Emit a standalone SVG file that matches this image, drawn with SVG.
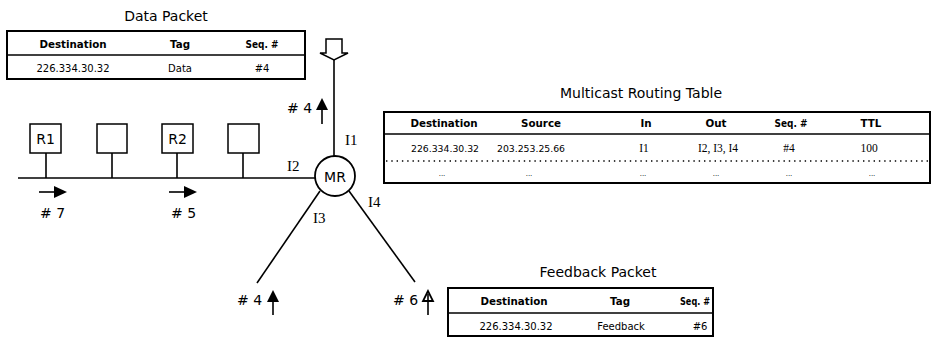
<svg xmlns="http://www.w3.org/2000/svg" width="932" height="337" viewBox="0 0 932 337">
  <style>
    .frame { fill: #fff; stroke: #000; stroke-width: 2; }
    .rule { stroke: #000; stroke-width: 1.5; fill: none; }
    .dots { stroke: #000; stroke-width: 1.6; stroke-dasharray: 1.4 3.9; fill: none; }
    .wire { stroke: #000; stroke-width: 1.6; fill: none; }
    .box { fill: #fff; stroke: #000; stroke-width: 1.5; }
    .title { font-family: "DejaVu Sans", Verdana, sans-serif; font-size: 14px; text-anchor: middle; fill: #000; }
    .hdr { font-family: "DejaVu Sans", Verdana, sans-serif; font-size: 10.3px; font-weight: bold; text-anchor: middle; fill: #000; }
    .cell { font-family: "DejaVu Sans", Verdana, sans-serif; font-size: 10px; text-anchor: middle; fill: #000; }
    .cells { font-family: "DejaVu Sans", Verdana, sans-serif; font-size: 9.3px; text-anchor: middle; fill: #000; }
    .cellserif { font-family: "Liberation Serif", "Times New Roman", serif; font-size: 11.5px; text-anchor: middle; fill: #000; }
    .ell { font-family: "DejaVu Sans", Verdana, sans-serif; font-size: 7px; text-anchor: middle; fill: #000; }
    .lbl { font-family: "DejaVu Sans", Verdana, sans-serif; font-size: 14px; fill: #000; }
    .iface { font-family: "Liberation Serif", "Times New Roman", serif; font-size: 15px; fill: #000; }
    .node { font-family: "DejaVu Sans", Verdana, sans-serif; font-size: 14px; text-anchor: middle; fill: #000; }
    .head { fill: #000; stroke: none; }
  </style>

  <!-- Connectors: LAN bus, host drops and the router's interface links -->
  <g id="connectors">
    <line class="wire" x1="18" y1="178" x2="315" y2="178" stroke-width="2"/>
    <line class="wire" x1="46" y1="153" x2="46" y2="178"/>
    <line class="wire" x1="112" y1="153" x2="112" y2="178"/>
    <line class="wire" x1="177" y1="153" x2="177" y2="178"/>
    <line class="wire" x1="243" y1="153" x2="243" y2="178"/>
    <line class="wire" x1="334" y1="60" x2="334" y2="157"/>
    <line class="wire" x1="320" y1="191" x2="257" y2="283"/>
    <line class="wire" x1="349" y1="191" x2="415" y2="282"/>
  </g>

  <!-- Incoming block arrow on interface I1 -->
  <g id="source-arrow">
    <polygon class="box" points="326,39 342,39 342,53 348,53 334,60 320,53 326,53"/>
  </g>

  <!-- Multicast router -->
  <g id="mr">
    <circle cx="335" cy="176" r="20" fill="#fff" stroke="#000" stroke-width="1.8"/>
    <text class="node" x="335" y="182" font-size="15">MR</text>
  </g>

  <!-- Hosts on the LAN -->
  <g id="r1">
    <rect class="box" x="30" y="124" width="31" height="29"/>
    <text class="node" x="45.5" y="144">R1</text>
  </g>
  <g id="host2">
    <rect class="box" x="97" y="124" width="30" height="29"/>
  </g>
  <g id="r2">
    <rect class="box" x="162" y="124" width="31" height="29"/>
    <text class="node" x="177.5" y="144">R2</text>
  </g>
  <g id="host4">
    <rect class="box" x="228" y="124" width="31" height="29"/>
  </g>

  <!-- Interface names -->
  <g id="interfaces">
    <text class="iface" x="345" y="145">I1</text>
    <text class="iface" x="287" y="171">I2</text>
    <text class="iface" x="313" y="223">I3</text>
    <text class="iface" x="368" y="207">I4</text>
  </g>

  <!-- Sequence markers with direction arrows -->
  <g id="seq-i1">
    <text class="lbl" x="287" y="113"># 4</text>
    <line class="wire" x1="322" y1="108" x2="322" y2="124"/>
    <polygon class="head" points="322,98 316,110 328,110"/>
  </g>
  <g id="seq-r1">
    <line class="wire" x1="39" y1="192" x2="56" y2="192"/>
    <polygon class="head" points="54,186 67,192 54,198"/>
    <text class="lbl" x="40" y="218"># 7</text>
  </g>
  <g id="seq-r2">
    <line class="wire" x1="169" y1="192" x2="186" y2="192"/>
    <polygon class="head" points="184,186 197,192 184,198"/>
    <text class="lbl" x="171" y="218"># 5</text>
  </g>
  <g id="seq-i3">
    <text class="lbl" x="237" y="305"># 4</text>
    <line class="wire" x1="273" y1="300" x2="273" y2="315"/>
    <polygon class="head" points="273,290 267,302 279,302"/>
  </g>
  <g id="seq-i4">
    <text class="lbl" x="393" y="305"># 6</text>
    <line class="wire" x1="428" y1="294" x2="428" y2="315"/>
    <polygon points="428,291 423,301 433,301" fill="none" stroke="#000" stroke-width="1.8"/>
  </g>

  <!-- Data packet header -->
  <g id="data-packet">
    <text class="title" x="166" y="21">Data Packet</text>
    <rect class="frame" x="7" y="31" width="298" height="48"/>
    <line class="rule" x1="7" y1="55" x2="305" y2="55"/>
    <text class="hdr" x="73" y="48">Destination</text>
    <text class="hdr" x="180" y="48">Tag</text>
    <text class="hdr" x="262" y="48" textLength="33" lengthAdjust="spacingAndGlyphs">Seq. #</text>
    <text class="cell" x="73" y="72">226.334.30.32</text>
    <text class="cell" x="180" y="72">Data</text>
    <text class="cell" x="262" y="72">#4</text>
  </g>

  <!-- Multicast routing table -->
  <g id="routing-table">
    <text class="title" x="641" y="98" font-size="13.3">Multicast Routing Table</text>
    <rect class="frame" x="384" y="112" width="546" height="71"/>
    <line class="rule" x1="384" y1="134" x2="930" y2="134"/>
    <line class="dots" x1="386" y1="161" x2="930" y2="161"/>
    <text class="hdr" x="444" y="127">Destination</text>
    <text class="hdr" x="541" y="127">Source</text>
    <text class="hdr" x="646" y="127">In</text>
    <text class="hdr" x="716" y="127">Out</text>
    <text class="hdr" x="791" y="127" textLength="33" lengthAdjust="spacingAndGlyphs">Seq. #</text>
    <text class="hdr" x="871" y="127">TTL</text>
    <text class="cells" x="445" y="152">226.334.30.32</text>
    <text class="cells" x="531" y="152">203.253.25.66</text>
    <text class="cellserif" x="644" y="152">I1</text>
    <text class="cellserif" x="718" y="152">I2, I3, I4</text>
    <text class="cellserif" x="789" y="152">#4</text>
    <text class="cellserif" x="869" y="152">100</text>
    <text class="ell" x="442" y="176">...</text>
    <text class="ell" x="529" y="176">...</text>
    <text class="ell" x="643" y="176">...</text>
    <text class="ell" x="716" y="176">...</text>
    <text class="ell" x="789" y="176">...</text>
    <text class="ell" x="872" y="176">...</text>
  </g>

  <!-- Feedback packet header -->
  <g id="feedback-packet">
    <text class="title" x="598" y="277">Feedback Packet</text>
    <rect class="frame" x="448" y="288" width="265" height="48"/>
    <line class="rule" x1="448" y1="313" x2="713" y2="313"/>
    <text class="hdr" x="514" y="305">Destination</text>
    <text class="hdr" x="620" y="305">Tag</text>
    <text class="hdr" x="695" y="305" textLength="30" lengthAdjust="spacingAndGlyphs">Seq. #</text>
    <text class="cell" x="516" y="330">226.334.30.32</text>
    <text class="cell" x="621" y="330">Feedback</text>
    <text class="cell" x="700" y="330">#6</text>
  </g>
</svg>
